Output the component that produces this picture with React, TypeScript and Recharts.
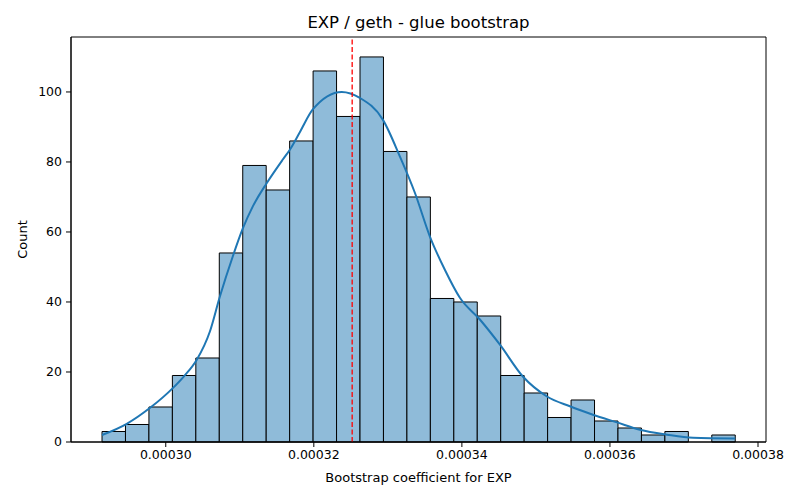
import React from "react";
import {
  ComposedChart,
  Line,
  XAxis,
  YAxis,
  ReferenceArea,
  ReferenceLine,
} from "recharts";

// histogram: bin layout and counts per bin
const binStart = 0.00029139;
const binWidth = 0.000003168;
const counts = [3, 5, 10, 19, 24, 54, 79, 72, 86, 106, 93, 110, 83, 70, 41, 40, 36, 19, 14, 7, 12, 6, 4, 2, 3, 0, 2];

// kde curve
const kdeX = [
  0.00029139, 0.00029473, 0.00029784, 0.00030095, 0.00030243, 0.00030419, 0.00030595,
  0.0003073, 0.00030905, 0.00031041, 0.00031176, 0.00031365, 0.00031581, 0.00031676,
  0.00031811, 0.00031986, 0.00032378, 0.00032622, 0.00032932, 0.00033162, 0.00033365,
  0.00033568, 0.0003377, 0.00033973, 0.00034243, 0.00034514, 0.00034824, 0.00035149,
  0.00035459, 0.0003577, 0.00036095, 0.00036405, 0.0003677, 0.00037122, 0.00037693,
];
const kdeY = [
  2.0, 5.2, 9.7, 15.4, 18.7, 23.5, 31.5, 41.5, 53, 61, 67.3, 74, 80.7, 83.5, 88.5, 95,
  100, 98.3, 92.1, 81.6, 71.2, 58.7, 49.2, 41.2, 35, 27.8, 18.7, 13, 10.2, 7.8, 5.6, 3.5,
  2.1, 1.2, 1.0,
];

const meanValue = 0.00032518;
const xTicks = [0.0003, 0.00032, 0.00034, 0.00036, 0.00038];
const yTicks = [0, 20, 40, 60, 80, 100];
const X_MIN = 0.0002872;
const X_MAX = 0.00038108;
const Y_MAX = 115.7;

const FONT = "DejaVu Sans, sans-serif";

const kdeData = kdeX.map((x, i) => ({ x, y: kdeY[i] }));

export default function App() {
  return (
    <div style={{ position: "absolute", left: 0, top: 0, width: 800, height: 500, background: "#fff" }}>
      <div
        style={{
          position: "absolute",
          left: 71,
          width: 695,
          top: 13,
          textAlign: "center",
          fontFamily: FONT,
          fontSize: 16.5,
          color: "#000",
        }}
      >
        EXP / geth - glue bootstrap
      </div>
      <ComposedChart
        width={800}
        height={500}
        data={kdeData}
        margin={{ top: 37, right: 34, left: 0, bottom: 0 }}
      >
        <XAxis
          dataKey="x"
          type="number"
          domain={[X_MIN, X_MAX]}
          ticks={xTicks}
          allowDataOverflow
          tickFormatter={(v: number) => v.toFixed(5)}
          height={58}
          stroke="#000"
          tick={{ fill: "#000", fontSize: 12.5, fontFamily: FONT }}
          tickSize={5}
          tickMargin={3}
          label={{
            value: "Bootstrap coefficient for EXP",
            position: "insideBottom",
            offset: 18,
            fill: "#000",
            fontSize: 13,
            fontFamily: FONT,
          }}
        />
        <YAxis
          type="number"
          domain={[0, Y_MAX]}
          ticks={yTicks}
          allowDataOverflow
          width={71}
          stroke="#000"
          tick={{ fill: "#000", fontSize: 12.5, fontFamily: FONT }}
          tickSize={5}
          tickMargin={4}
          label={(props: any) => {
            const vb = props.viewBox || { y: 37, height: 405 };
            const cx = 22;
            const cy = vb.y + vb.height / 2;
            return (
              <text
                x={cx}
                y={cy}
                transform={`rotate(-90, ${cx}, ${cy})`}
                textAnchor="middle"
                dominantBaseline="central"
                fill="#000"
                fontSize={13}
                fontFamily={FONT}
              >
                Count
              </text>
            );
          }}
        />
        {counts.map((c, i) =>
          c > 0 ? (
            <ReferenceArea
              key={i}
              x1={binStart + i * binWidth}
              x2={binStart + (i + 1) * binWidth}
              y1={0}
              y2={c}
              fill="#8fbbd9"
              fillOpacity={1}
              stroke="#000"
              strokeWidth={1}
              strokeOpacity={1}
              ifOverflow="visible"
            />
          ) : null
        )}
        <Line
          dataKey="y"
          type="monotone"
          stroke="#1f77b4"
          strokeWidth={2}
          dot={false}
          activeDot={false}
          isAnimationActive={false}
        />
        <ReferenceLine
          x={meanValue}
          stroke="#ff0000"
          strokeWidth={1.3}
          strokeDasharray="5 2.5"
          ifOverflow="visible"
        />
        <ReferenceArea
          x1={X_MIN}
          x2={X_MAX}
          y1={0}
          y2={Y_MAX}
          fill="none"
          stroke="#000"
          strokeWidth={1}
          strokeOpacity={1}
          ifOverflow="visible"
        />
      </ComposedChart>
    </div>
  );
}
